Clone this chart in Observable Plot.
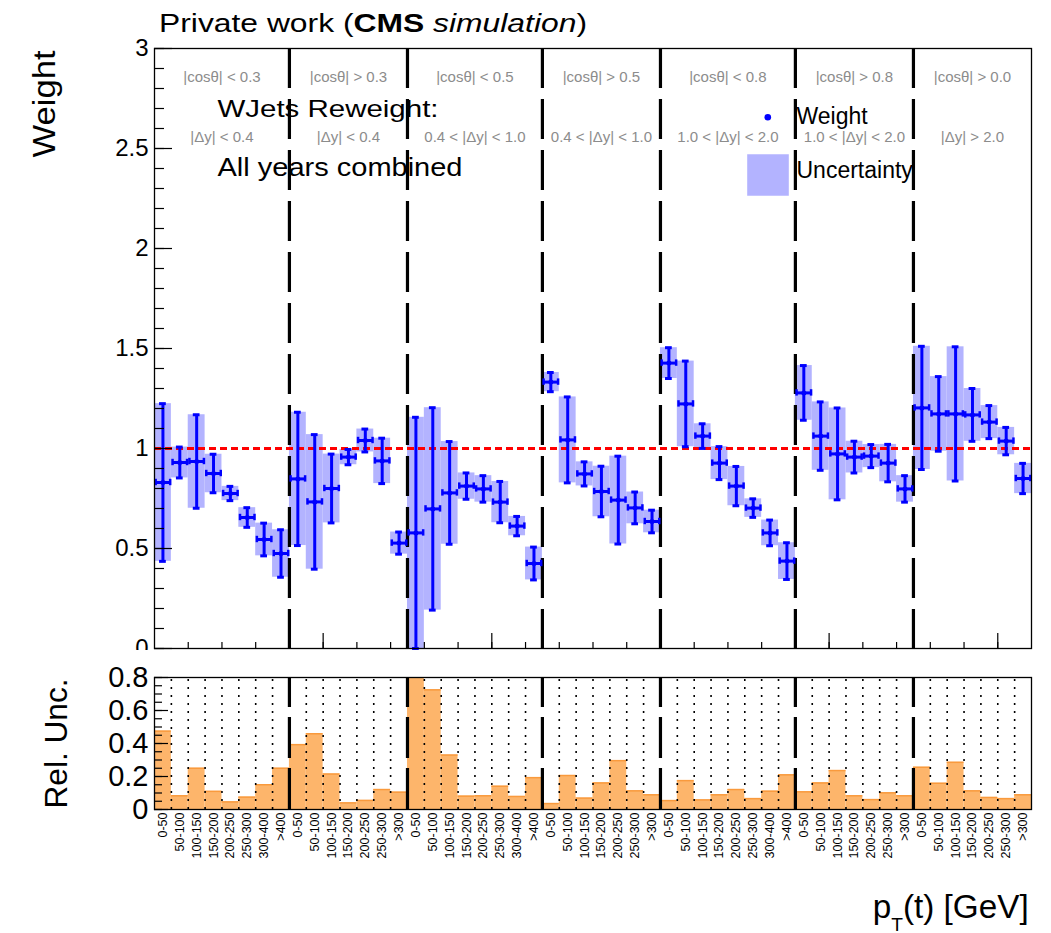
<!DOCTYPE html>
<html>
<head>
<meta charset="utf-8">
<script src="https://cdn.jsdelivr.net/npm/d3@7"></script>
<script src="https://cdn.jsdelivr.net/npm/@observablehq/plot@0.6"></script>
<style>
  body { margin: 0; background: #fff; }
  #fig { position: relative; width: 1051px; height: 933px; overflow: hidden;
         font-family: "Liberation Sans", Arial, Helvetica, sans-serif; background: #fff; }
  #fig svg { position: absolute; left: 0; }
  .htext { position: absolute; white-space: nowrap; line-height: 1; color: #000; }
  #title { left: 159px; top: 9.7px; font-size: 26px; transform-origin: 0 0; }
  #xtitle { right: 22.5px; top: 890.4px; font-size: 33px; transform-origin: 100% 0; }
  #xtitle .sub { font-size: 19px; position: relative; top: 13px; }
</style>
</head>
<body>
<div id="fig"></div>
<script>
// ---- categories ----
const ptLabels8 = ["0-50", "50-100", "100-150", "150-200", "200-250", "250-300", "300-400", ">400"];
const ptLabels7 = ["0-50", "50-100", "100-150", "150-200", "200-250", "250-300", ">300"];
const cosCuts = ["|cosθ| < 0.3", "|cosθ| > 0.3", "|cosθ| < 0.5", "|cosθ| > 0.5", "|cosθ| < 0.8", "|cosθ| > 0.8", "|cosθ| > 0.0"];
const dyCuts = ["|Δy| < 0.4", "|Δy| < 0.4", "0.4 < |Δy| < 1.0", "0.4 < |Δy| < 1.0", "1.0 < |Δy| < 2.0", "1.0 < |Δy| < 2.0", "|Δy| > 2.0"];
const regionPtLabels = [ptLabels8, ptLabels7, ptLabels8, ptLabels7, ptLabels8, ptLabels7, ptLabels7];

// ---- weights per (cosθ, Δy) region, one entry per pT bin ----
const weightR1 = [0.83, 0.93, 0.935, 0.875, 0.775, 0.655, 0.545, 0.475];
const weightR2 = [0.848, 0.733, 0.80, 0.957, 1.04, 0.938, 0.527];
const weightR3 = [0.578, 0.698, 0.778, 0.812, 0.798, 0.732, 0.612, 0.425];
const weightR4 = [1.332, 1.043, 0.873, 0.785, 0.742, 0.703, 0.635];
const weightR5 = [1.427, 1.223, 1.062, 0.927, 0.812, 0.702, 0.578, 0.437];
const weightR6 = [1.278, 1.062, 0.973, 0.957, 0.962, 0.927, 0.798];
const weightR7 = [1.203, 1.173, 1.173, 1.168, 1.132, 1.037, 0.85];

// ---- relative uncertainties of the weights ----
const relUncR1 = [0.475, 0.083, 0.25, 0.11, 0.046, 0.075, 0.15, 0.25];
const relUncR2 = [0.393, 0.459, 0.215, 0.04, 0.055, 0.121, 0.105];
const relUncR3 = [1.0, 0.725, 0.33, 0.081, 0.083, 0.141, 0.079, 0.193];
const relUncR4 = [0.036, 0.206, 0.069, 0.161, 0.296, 0.113, 0.089];
const relUncR5 = [0.054, 0.175, 0.058, 0.089, 0.121, 0.066, 0.111, 0.21];
const relUncR6 = [0.107, 0.161, 0.236, 0.083, 0.06, 0.101, 0.083];
const relUncR7 = [0.256, 0.159, 0.286, 0.113, 0.073, 0.066, 0.089];

// ---- texts ----
const yTicksTop = [0, 0.5, 1, 1.5, 2, 2.5, 3];
const yTicksBottom = [0, 0.2, 0.4, 0.6, 0.8];
const headLines = ["WJets Reweight:", "All years combined"];
const legendLabels = ["Weight", "Uncertainty"];

const weights = [weightR1, weightR2, weightR3, weightR4, weightR5, weightR6, weightR7];
const relUnc = [relUncR1, relUncR2, relUncR3, relUncR4, relUncR5, relUncR6, relUncR7];

// flatten into consecutive bins
const bins = [];
const regions = [];
let k = 0;
regionPtLabels.forEach((labels, r) => {
  const start = k;
  labels.forEach((label, j) => {
    const w = weights[r][j], u = relUnc[r][j];
    bins.push({i: k, label, w, u, lo: w * (1 - u), hi: w * (1 + u)});
    k++;
  });
  regions.push({start, end: k, mid: (start + k) / 2, cos: cosCuts[r], dy: dyCuts[r]});
});
const nBins = k;
const boundaries = regions.slice(1).map(d => d.start);
const dottedEdges = d3.range(1, nBins).filter(e => !boundaries.includes(e));

const FONT = '"Liberation Sans", Arial, Helvetica, sans-serif';
const BLUE = "#0000ff";
const BAND = "#b3b3ff";
const GRAY = "#8c8c8c";
const CAP = 0.2;
const fmt = d => String(+d.toFixed(2));

const fig = document.getElementById("fig");

// ---------- upper panel: weights ----------
const upper = Plot.plot({
  width: 1051, height: 650,
  marginTop: 48, marginBottom: 2, marginLeft: 154, marginRight: 20,
  style: {fontFamily: FONT, overflow: "hidden", background: "transparent", color: "black"},
  x: {domain: [0, nBins]},
  y: {domain: [0, 3]},
  marks: [
    Plot.rect(bins, {x1: "i", x2: d => d.i + 1, y1: "lo", y2: "hi", fill: BAND, clip: true}),
    Plot.text(regions, {x: "mid", text: "cos", frameAnchor: "top", lineAnchor: "middle", dy: 29, fill: GRAY, fontSize: 15}),
    Plot.text(regions, {x: "mid", text: "dy", frameAnchor: "top", lineAnchor: "middle", dy: 89, fill: GRAY, fontSize: 15}),
    Plot.text([headLines[0]], {x: null, y: null, text: d => d, frameAnchor: "top-left", lineAnchor: "middle", textAnchor: "start", dx: 63, dy: 61, fontSize: 24}),
    Plot.text([headLines[1]], {x: null, y: null, text: d => d, frameAnchor: "top-left", lineAnchor: "middle", textAnchor: "start", dx: 63, dy: 119.5, fontSize: 26}),
    Plot.text([legendLabels[0]], {x: null, y: null, text: d => d, frameAnchor: "top-left", lineAnchor: "middle", textAnchor: "start", dx: 642, dy: 68, fontSize: 23}),
    Plot.text([legendLabels[1]], {x: null, y: null, text: d => d, frameAnchor: "top-left", lineAnchor: "middle", textAnchor: "start", dx: 642, dy: 122.5, fontSize: 23}),
    Plot.ruleY([1], {stroke: "#ff0000", strokeWidth: 3, strokeDasharray: "7,4"}),
    Plot.ruleX(boundaries, {stroke: "black", strokeWidth: 3.2, strokeDasharray: "40,11"}),
    // error bars with end caps
    Plot.ruleX(bins, {x: d => d.i + 0.5, y1: "lo", y2: "hi", stroke: BLUE, strokeWidth: 3}),
    Plot.ruleY(bins, {y: "lo", x1: d => d.i + 0.5 - CAP, x2: d => d.i + 0.5 + CAP, stroke: BLUE, strokeWidth: 3}),
    Plot.ruleY(bins, {y: "hi", x1: d => d.i + 0.5 - CAP, x2: d => d.i + 0.5 + CAP, stroke: BLUE, strokeWidth: 3}),
    Plot.ruleY(bins, {y: "w", x1: d => d.i + 0.07, x2: d => d.i + 0.93, stroke: BLUE, strokeWidth: 3}),
    Plot.ruleX(bins, {x: d => d.i + 0.07, y1: d => d.w - 0.016, y2: d => d.w + 0.016, stroke: BLUE, strokeWidth: 2.5}),
    Plot.ruleX(bins, {x: d => d.i + 0.93, y1: d => d.w - 0.016, y2: d => d.w + 0.016, stroke: BLUE, strokeWidth: 2.5}),
    Plot.dot(bins, {x: d => d.i + 0.5, y: "w", r: 2.5, fill: BLUE}),
    Plot.frame({stroke: "black", strokeWidth: 1.3}),
    // inward ticks
    Plot.axisY(d3.range(0, 31).map(i => i / 10), {tickSize: -10, fill: "none", label: null, strokeWidth: 1.2}),
    Plot.axisY(yTicksTop, {tickSize: -18, fill: "none", label: null, strokeWidth: 1.2}),
    Plot.axisY(yTicksTop, {tickSize: 0, tickPadding: 6, fontSize: 24, label: null, tickFormat: fmt}),
    Plot.axisX(d3.range(2, nBins, 2), {tickSize: -6, fill: "none", label: null, strokeWidth: 1.2}),
    Plot.axisX([10, 20, 30, 40, 50], {tickSize: -15, fill: "none", label: null, strokeWidth: 1.2}),
    // legend swatches
    Plot.dot([0], {x: null, y: null, frameAnchor: "top-left", dx: 613.3, dy: 68.7, r: 3.3, fill: BLUE}),
    Plot.dot([0], {x: null, y: null, frameAnchor: "top-left", dx: 613.5, dy: 126.5, r: 23.47, symbol: "square", fill: BAND}),
    // axis title
    Plot.text(["Weight"], {x: null, y: null, text: d => d, frameAnchor: "top-left", lineAnchor: "middle", rotate: -90, textAnchor: "end", dx: -110, dy: 2, fontSize: 32})
  ]
});
upper.style.top = "0px";
fig.append(upper);

// ---------- lower panel: relative uncertainty ----------
const lower = Plot.plot({
  width: 1051, height: 283,
  marginTop: 27, marginBottom: 124, marginLeft: 154, marginRight: 20,
  style: {fontFamily: FONT, overflow: "hidden", background: "transparent", color: "black"},
  x: {domain: [0, nBins], axis: null},
  y: {domain: [0, 0.8]},
  marks: [
    Plot.rect(bins, {x1: "i", x2: d => d.i + 1, y1: 0, y2: "u", fill: "#fdb56b", clip: true}),
    Plot.ruleY(bins, {y: "u", x1: "i", x2: d => d.i + 1, stroke: "#f99a3d", strokeWidth: 1.5, clip: true}),
    Plot.ruleX(dottedEdges, {y1: 0, y2: 0.8, stroke: "black", strokeWidth: 1.6, strokeDasharray: "2,6"}),
    Plot.ruleX(boundaries, {y1: 0, y2: 0.8, stroke: "black", strokeWidth: 3.2, strokeDasharray: "41,10"}),
    Plot.frame({stroke: "black", strokeWidth: 1.3}),
    Plot.axisY(d3.range(0, 17).map(i => i * 0.05), {tickSize: -8, fill: "none", label: null, strokeWidth: 1.2}),
    Plot.axisY(yTicksBottom, {tickSize: -14, fill: "none", label: null, strokeWidth: 1.2}),
    Plot.axisY(yTicksBottom, {tickSize: 0, tickPadding: 6, fontSize: 29, label: null, tickFormat: fmt}),
    Plot.text(bins, {x: d => d.i + 0.5, text: "label", rotate: -90, textAnchor: "end", frameAnchor: "bottom", lineAnchor: "middle", dy: 3, fontSize: 12.5}),
    Plot.text(["Rel. Unc."], {x: null, y: null, text: d => d, frameAnchor: "top-left", lineAnchor: "middle", rotate: -90, textAnchor: "end", dx: -98, dy: 1, fontSize: 32})
  ]
});
lower.style.top = "650px";
fig.append(lower);

// widen a few labels to the set widths
function fitText(svg, content, size, width) {
  for (const t of svg.querySelectorAll("text")) {
    const g = t.closest("[font-size]");
    if (t.textContent === content && g && +g.getAttribute("font-size") === size) {
      t.setAttribute("textLength", width);
      t.setAttribute("lengthAdjust", "spacingAndGlyphs");
    }
  }
}
fitText(upper, headLines[0], 24, 221);
fitText(upper, headLines[1], 26, 245);
fitText(upper, "Weight", 32, 107);
fitText(lower, "Rel. Unc.", 32, 130);

// title above and x-axis title below
const title = document.createElement("div");
title.id = "title"; title.className = "htext";
title.innerHTML = 'Private work (<b>CMS</b> <i>simulation</i>)';
fig.append(title);

const xtitle = document.createElement("div");
xtitle.id = "xtitle"; xtitle.className = "htext";
xtitle.innerHTML = 'p<span class="sub">T</span>(t) [GeV]';
fig.append(xtitle);

function fitWidth(el, width) {
  const w = el.getBoundingClientRect().width;
  if (w > 0) el.style.transform = `scaleX(${width / w})`;
}
fitWidth(title, 428);
fitWidth(xtitle, 156);
</script>
</body>
</html>
